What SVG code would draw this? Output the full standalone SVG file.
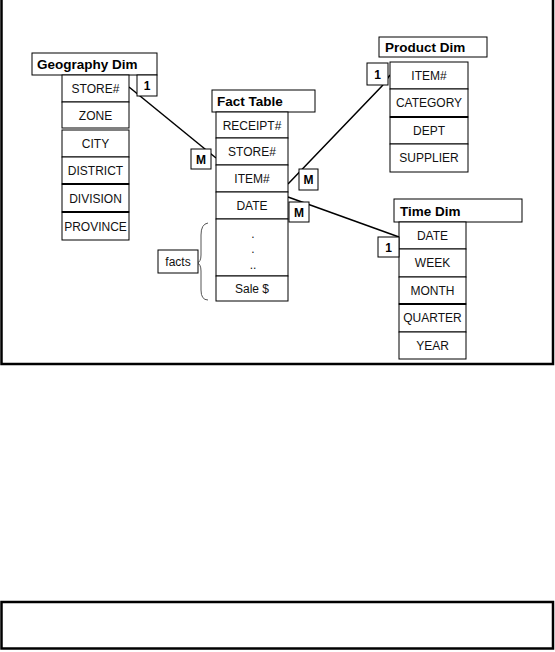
<svg xmlns="http://www.w3.org/2000/svg" width="555" height="652" viewBox="0 0 555 652">
<style>
.cell{fill:#fff;stroke:#000;stroke-width:1}
.thick{stroke:#000;stroke-width:2}
.hdr{fill:#fff;stroke:#000;stroke-width:1}
.ht{font-family:"Liberation Sans",Arial,sans-serif;font-weight:bold;font-size:13.5px;fill:#000}
.rt{font-family:"Liberation Sans",Arial,sans-serif;font-size:12px;fill:#111;text-anchor:middle}
.ct{font-family:"Liberation Sans",Arial,sans-serif;font-weight:bold;font-size:12px;fill:#000;text-anchor:middle}
.conn{fill:none;stroke:#000;stroke-width:1.5}
</style>
<rect width="555" height="652" fill="#fff"/>
<rect x="1.5" y="-5" width="551.5" height="369" fill="none" stroke="#000" stroke-width="2.5"/>
<rect x="1.5" y="602" width="551.5" height="46.5" fill="none" stroke="#000" stroke-width="2.5"/>

<g id="connectors">
<path class="conn" d="M129,87 L216,158"/>
<path class="conn" d="M288,184 L382,86 L390,75"/>
<path class="conn" d="M288,197 L399,237"/>
<path d="M208,223 Q201,224 201,235 L201,255 Q201,262 197,263 Q201,264 201,271 L201,290 Q201,300 208,300" fill="none" stroke="#555" stroke-width="1"/>
</g>

<g id="geography">
<rect class="hdr" x="32" y="53" width="125" height="22"/>
<text class="ht" x="37" y="69">Geography Dim</text>
<rect class="cell" x="62" y="75" width="67" height="27"/><text class="rt" x="95.5" y="93">STORE#</text>
<rect class="cell" x="62" y="102" width="67" height="26"/><text class="rt" x="95.5" y="120">ZONE</text>
<rect class="cell" x="62" y="130" width="67" height="27"/><text class="rt" x="95.5" y="148">CITY</text>
<rect class="cell" x="62" y="157" width="67" height="27"/><text class="rt" x="95.5" y="175">DISTRICT</text>
<rect class="cell" x="62" y="184" width="67" height="28"/><text class="rt" x="95.5" y="203">DIVISION</text>
<rect class="cell" x="62" y="212" width="67" height="28"/><text class="rt" x="95.5" y="231">PROVINCE</text>
<line class="thick" x1="62" y1="184" x2="129" y2="184"/>
<line class="thick" x1="62" y1="212" x2="129" y2="212"/>
</g>

<g id="card-geo-1"><rect class="cell" x="137" y="75" width="20" height="21"/><text class="ct" x="147" y="90">1</text></g>

<g id="fact">
<rect class="hdr" x="212" y="90" width="103" height="22"/>
<text class="ht" x="217" y="106">Fact Table</text>
<rect class="cell" x="216" y="112" width="72" height="26"/><text class="rt" x="252" y="130">RECEIPT#</text>
<rect class="cell" x="216" y="138" width="72" height="27"/><text class="rt" x="252" y="156">STORE#</text>
<rect class="cell" x="216" y="165" width="72" height="27"/><text class="rt" x="252" y="183">ITEM#</text>
<rect class="cell" x="216" y="192" width="72" height="27"/><text class="rt" x="252" y="210">DATE</text>
<rect class="cell" x="216" y="219" width="72" height="57"/>
<text class="rt" x="253" y="238" font-size="10">.</text>
<text class="rt" x="253" y="253" font-size="10">.</text>
<text class="rt" x="253" y="269" font-size="10" fill="#888">..</text>
<rect class="cell" x="216" y="276" width="72" height="25"/><text class="rt" x="252" y="293">Sale $</text>
</g>

<g id="card-fact-m1"><rect class="cell" x="191" y="149" width="20" height="20"/><text class="ct" x="201" y="164" font-size="11">M</text></g>
<g id="card-fact-m2"><rect class="cell" x="299" y="169" width="19" height="21"/><text class="ct" x="308.5" y="184" font-size="11">M</text></g>
<g id="card-fact-m3"><rect class="cell" x="289" y="202" width="20" height="20"/><text class="ct" x="299" y="217" font-size="11">M</text></g>

<g id="facts-label"><rect class="cell" x="158" y="250" width="40" height="23"/><text class="rt" x="178" y="266">facts</text></g>

<g id="product">
<rect class="hdr" x="379" y="37" width="108" height="20"/>
<text class="ht" x="385" y="52">Product Dim</text>
<rect class="cell" x="390" y="62" width="78" height="27"/><text class="rt" x="429" y="80">ITEM#</text>
<rect class="cell" x="390" y="89" width="78" height="28"/><text class="rt" x="429" y="107">CATEGORY</text>
<rect class="cell" x="390" y="117" width="78" height="27"/><text class="rt" x="429" y="135">DEPT</text>
<rect class="cell" x="390" y="144" width="78" height="28"/><text class="rt" x="429" y="162">SUPPLIER</text>
<line class="thick" x1="390" y1="117" x2="468" y2="117"/>
</g>
<g id="card-prod-1"><rect class="cell" x="367" y="63" width="21" height="22"/><text class="ct" x="377.5" y="79">1</text></g>

<g id="time">
<rect class="hdr" x="394" y="199" width="128" height="23"/>
<text class="ht" x="400" y="216">Time Dim</text>
<rect class="cell" x="399" y="222" width="67" height="27"/><text class="rt" x="432.5" y="240">DATE</text>
<rect class="cell" x="399" y="249" width="67" height="28"/><text class="rt" x="432.5" y="267">WEEK</text>
<rect class="cell" x="399" y="277" width="67" height="27"/><text class="rt" x="432.5" y="295">MONTH</text>
<rect class="cell" x="399" y="304" width="67" height="28"/><text class="rt" x="432.5" y="322">QUARTER</text>
<rect class="cell" x="399" y="332" width="67" height="27"/><text class="rt" x="432.5" y="350">YEAR</text>
<line class="thick" x1="399" y1="304" x2="466" y2="304"/>
</g>
<g id="card-time-1"><rect class="cell" x="378" y="237" width="21" height="20"/><text class="ct" x="388.5" y="252">1</text></g>
</svg>
